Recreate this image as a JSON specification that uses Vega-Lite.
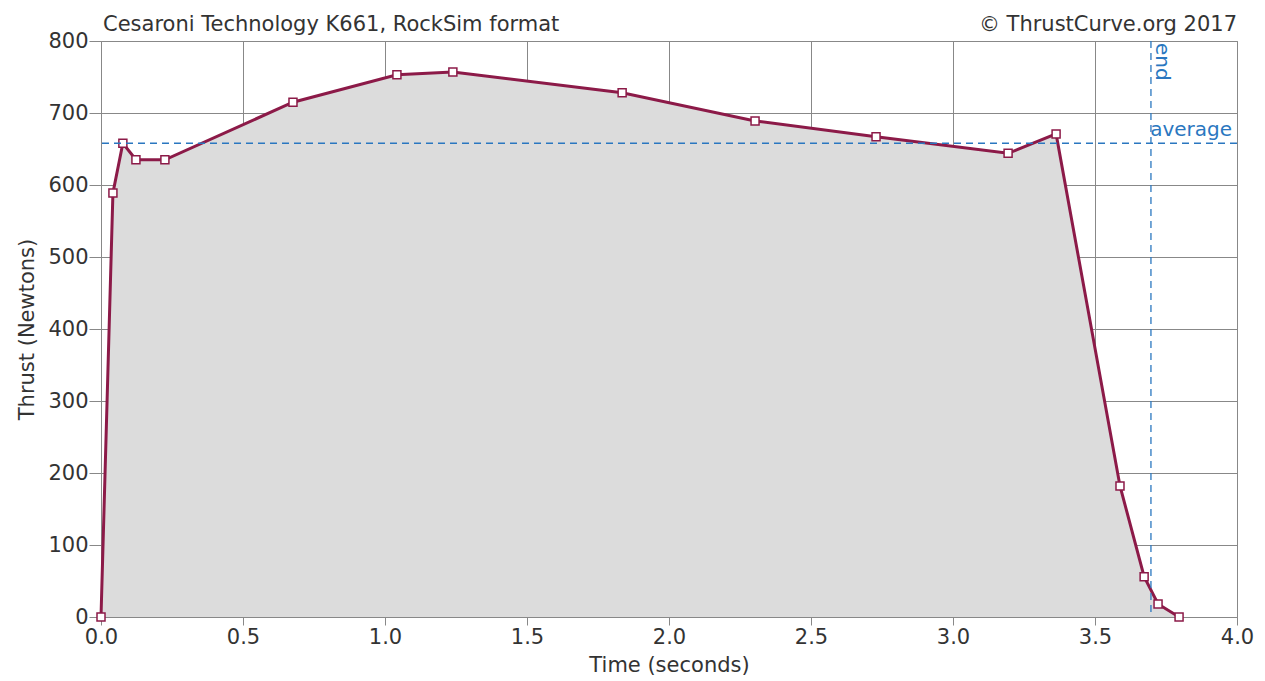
{
  "$schema": "https://vega.github.io/schema/vega-lite/v6.json",
  "width": 1136,
  "height": 576,
  "autosize": {"type": "none"},
  "padding": {"left": 101, "top": 41, "right": 28, "bottom": 64},
  "background": "white",
  "config": {
    "font": "DejaVu Sans",
    "view": {"stroke": "#888", "strokeWidth": 1},
    "axis": {"domain": false, "gridColor": "#888", "gridWidth": 1, "tickColor": "#888", "tickSize": 12, "labelFontSize": 21, "labelColor": "#333", "titleFontSize": 21, "titleFontWeight": "normal", "titleColor": "#333", "labelPadding": 1, "labelFlush": false, "labelOverlap": false}
  },
  "datasets": {
    "curve": [
      {"t": 0.0, "thrust": 0},
      {"t": 0.042, "thrust": 589},
      {"t": 0.077, "thrust": 658},
      {"t": 0.123, "thrust": 635},
      {"t": 0.225, "thrust": 635},
      {"t": 0.676, "thrust": 715},
      {"t": 1.042, "thrust": 753},
      {"t": 1.239, "thrust": 757},
      {"t": 1.835, "thrust": 728},
      {"t": 2.303, "thrust": 689},
      {"t": 2.729, "thrust": 667},
      {"t": 3.194, "thrust": 644},
      {"t": 3.363, "thrust": 671},
      {"t": 3.588, "thrust": 182},
      {"t": 3.673, "thrust": 56},
      {"t": 3.722, "thrust": 18},
      {"t": 3.796, "thrust": 0}
    ]
  },
  "layer": [
    {
      "data": {"name": "curve"},
      "mark": {"type": "area", "color": "#dcdcdc", "line": false},
      "encoding": {
        "x": {"field": "t", "type": "quantitative", "scale": {"domain": [0, 4], "nice": false, "zero": false}, "axis": {"values": [0, 0.5, 1, 1.5, 2, 2.5, 3, 3.5, 4], "format": ".1f", "title": "Time (seconds)", "titlePadding": 7, "tickSize": 8}},
        "y": {"field": "thrust", "type": "quantitative", "scale": {"domain": [0, 800], "nice": false}, "axis": {"values": [0, 100, 200, 300, 400, 500, 600, 700, 800], "title": "Thrust (Newtons)", "titlePadding": 10}}
      }
    },
    {
      "data": {"name": "curve"},
      "mark": {"type": "line", "color": "#8c1a48", "strokeWidth": 3},
      "encoding": {
        "x": {"field": "t", "type": "quantitative"},
        "y": {"field": "thrust", "type": "quantitative"}
      }
    },
    {
      "data": {"name": "curve"},
      "mark": {"type": "point", "shape": "square", "size": 64, "filled": true, "fill": "white", "stroke": "#8c1a48", "strokeWidth": 1.5, "opacity": 1},
      "encoding": {
        "x": {"field": "t", "type": "quantitative"},
        "y": {"field": "thrust", "type": "quantitative"}
      }
    },
    {
      "data": {"values": [{"avg": 658}]},
      "mark": {"type": "rule", "color": "#2a77c0", "strokeDash": [7, 5], "strokeWidth": 1.3},
      "encoding": {"y": {"field": "avg", "type": "quantitative"}}
    },
    {
      "data": {"values": [{"end": 3.697}]},
      "mark": {"type": "rule", "color": "#2a77c0", "strokeDash": [7, 5], "strokeWidth": 1.3},
      "encoding": {"x": {"field": "end", "type": "quantitative"}}
    },
    {
      "data": {"values": [{"t": 4.0, "v": 658, "label": "average"}]},
      "mark": {"type": "text", "align": "right", "baseline": "bottom", "dx": -5, "dy": -3, "fontSize": 20, "color": "#2a77c0"},
      "encoding": {"x": {"field": "t", "type": "quantitative"}, "y": {"field": "v", "type": "quantitative"}, "text": {"field": "label"}}
    },
    {
      "data": {"values": [{"t": 3.697, "v": 800, "label": "end"}]},
      "mark": {"type": "text", "align": "left", "baseline": "bottom", "angle": 90, "dx": 2, "dy": -1, "fontSize": 20, "color": "#2a77c0"},
      "encoding": {"x": {"field": "t", "type": "quantitative"}, "y": {"field": "v", "type": "quantitative"}, "text": {"field": "label"}}
    },
    {
      "data": {"values": [{"t": 0.0, "v": 800, "label": "Cesaroni Technology K661, RockSim format"}]},
      "mark": {"type": "text", "align": "left", "baseline": "alphabetic", "dx": 2, "dy": -10, "fontSize": 21, "color": "#333"},
      "encoding": {"x": {"field": "t", "type": "quantitative"}, "y": {"field": "v", "type": "quantitative"}, "text": {"field": "label"}}
    },
    {
      "data": {"values": [{"t": 4.0, "v": 800, "label": "© ThrustCurve.org 2017"}]},
      "mark": {"type": "text", "align": "right", "baseline": "alphabetic", "dy": -10, "fontSize": 21, "color": "#333"},
      "encoding": {"x": {"field": "t", "type": "quantitative"}, "y": {"field": "v", "type": "quantitative"}, "text": {"field": "label"}}
    }
  ]
}
